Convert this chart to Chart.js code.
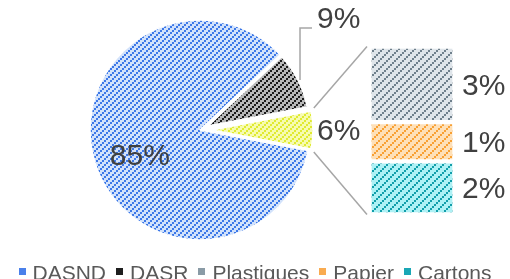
<!DOCTYPE html>
<html>
<head>
<meta charset="utf-8">
<script src="https://cdn.jsdelivr.net/npm/chart.js@4/dist/chart.umd.min.js"></script>
<style>
  body { margin: 0; background: #fff; }
  #wrap { position: relative; width: 510px; height: 279px; overflow: hidden; }
  #wrap canvas { position: absolute; left: 0; top: 0; }
  #legend {
    position: absolute; left: 0; top: 262px; width: 510px;
    display: flex; justify-content: center; align-items: center;
    font: 21px/21px "Liberation Sans", Arial, sans-serif; color: #595959;
    white-space: nowrap;
  }
  #legend .item { display: flex; align-items: center; margin-right: 10px; }
  #legend .item:last-child { margin-right: 0; }
  #legend .box { width: 7px; height: 7px; margin-right: 7px; position: relative; top: -1px; }
</style>
</head>
<body>
<div id="wrap">
  <canvas id="pie" width="510" height="279"></canvas>
  <canvas id="bar" width="510" height="279"></canvas>
  <div id="legend"></div>
</div>
<script>
// main pie
const categories = ['DASND', 'DASR', 'Autre'];
const shares = [85, 9, 6];
// split of "Autre"
const subCategories = ['Plastiques', 'Papier', 'Cartons'];
const subShares = [2.7, 1.4, 1.9];

const FONT = '"Liberation Sans", Arial, sans-serif';
const LABEL_COLOR = '#404040';
const LINE_COLOR = '#a6a6a6';

// upward diagonal hatch made of 2px blocks, p = pitch
function stripes(bg, fg, p) {
  const c = document.createElement('canvas');
  c.width = c.height = p;
  const g = c.getContext('2d');
  g.fillStyle = bg;
  g.fillRect(0, 0, p, p);
  g.fillStyle = fg;
  for (let k = 0; k < p; k += 2) g.fillRect(k, p - 2 - k, 2, 2);
  return g.createPattern(c, 'repeat');
}

const pieFills = [stripes('#d2e2fb', '#3c78e8', 6), stripes('#b8b8b8', '#1a1a1a', 6), stripes('#f6fbb0', '#e0ea30', 6)];
const subFills = [stripes('#dfe5ea', '#6f808c', 8), stripes('#fee0b8', '#f8a033', 8), stripes('#aef1f5', '#119eaa', 8)];
const legendColors = ['#4a80ea', '#1f1f1f', '#8a9ba6', '#f9ab50', '#1aa7b5'];

// slice explode distance and radius (px)
const explode = [0, 9, 12];
const sliceRadius = [110, 101, 101];

const total = shares.reduce((a, b) => a + b, 0);
const lastShare = shares[shares.length - 1];

const explodePlugin = {
  id: 'explode',
  afterDatasetUpdate(chart) {
    chart.getDatasetMeta(0).data.forEach((arc, i) => {
      const mid = (arc.startAngle + arc.endAngle) / 2;
      arc.x += Math.cos(mid) * explode[i];
      arc.y += Math.sin(mid) * explode[i];
      arc.outerRadius = sliceRadius[i];
    });
  }
};

const pieLabels = {
  id: 'pieLabels',
  afterDatasetsDraw(chart) {
    const ctx = chart.ctx;
    const arcs = chart.getDatasetMeta(0).data;
    ctx.save();
    ctx.font = '30px ' + FONT;
    ctx.fillStyle = LABEL_COLOR;
    ctx.textBaseline = 'middle';
    arcs.forEach((arc, i) => {
      const text = Math.round(shares[i]) + '%';
      const mid = (arc.startAngle + arc.endAngle) / 2;
      const ox = arc.x + Math.cos(mid) * arc.outerRadius;
      const oy = arc.y + Math.sin(mid) * arc.outerRadius;
      if (i === 0) {
        const a = mid - 8 * Math.PI / 180;
        const r = arc.outerRadius * 0.6;
        ctx.textAlign = 'center';
        ctx.fillText(text, arc.x + Math.cos(a) * r, arc.y + Math.sin(a) * r);
      } else if (i === 1) {
        ctx.strokeStyle = LINE_COLOR;
        ctx.lineWidth = 1.5;
        ctx.beginPath();
        ctx.moveTo(ox + 2, oy);
        ctx.lineTo(ox + 2, oy - 52);
        ctx.lineTo(ox + 14, oy - 52);
        ctx.stroke();
        ctx.textAlign = 'left';
        ctx.fillText(text, ox + 19, oy - 60);
      } else {
        ctx.textAlign = 'left';
        ctx.fillText(text, ox + 4, oy + 2);
      }
    });
    ctx.restore();
  }
};

const pieChart = new Chart(document.getElementById('pie'), {
  type: 'pie',
  data: {
    labels: categories,
    datasets: [{
      data: shares,
      backgroundColor: pieFills,
      borderColor: '#ffffff',
      borderWidth: 1.5
    }]
  },
  options: {
    responsive: false,
    animation: false,
    events: [],
    radius: 110,
    rotation: 90 + lastShare / total * 180,
    layout: { padding: { left: 0, right: 110, top: 0, bottom: 19 } },
    plugins: { legend: { display: false }, tooltip: { enabled: false } }
  },
  plugins: [explodePlugin, pieLabels]
});

const barLabels = {
  id: 'barLabels',
  afterDatasetsDraw(chart) {
    const ctx = chart.ctx;
    let top = Infinity, bottom = -Infinity, left = 0;
    ctx.save();
    ctx.font = '30px ' + FONT;
    ctx.fillStyle = LABEL_COLOR;
    ctx.textBaseline = 'middle';
    ctx.textAlign = 'left';
    chart.data.datasets.forEach((ds, i) => {
      const bar = chart.getDatasetMeta(i).data[0];
      const y1 = Math.min(bar.y, bar.base), y2 = Math.max(bar.y, bar.base);
      top = Math.min(top, y1);
      bottom = Math.max(bottom, y2);
      left = bar.x - bar.width / 2;
      ctx.fillText(Math.round(subShares[i]) + '%', bar.x + bar.width / 2 + 7.5, (y1 + y2) / 2 + 2);
    });
    // connector lines from the "Autre" slice to the bar
    const arc = pieChart.getDatasetMeta(0).data[categories.length - 1];
    const R = arc.outerRadius;
    const ends = [[arc.startAngle, top], [arc.endAngle, bottom]];
    ctx.strokeStyle = LINE_COLOR;
    ctx.lineWidth = 1.5;
    ends.forEach(([ang, y]) => {
      const cx = arc.x + Math.cos(ang) * R, cy = arc.y + Math.sin(ang) * R;
      const ex = left - 2.5, ey = y;
      const len = Math.hypot(ex - cx, ey - cy);
      ctx.beginPath();
      ctx.moveTo(cx + (ex - cx) / len * 4, cy + (ey - cy) / len * 4);
      ctx.lineTo(ex, ey);
      ctx.stroke();
    });
    ctx.restore();
  }
};

new Chart(document.getElementById('bar'), {
  type: 'bar',
  data: {
    labels: [categories[categories.length - 1]],
    datasets: subCategories.map((name, i) => ({
      label: name,
      data: [subShares[i]],
      backgroundColor: subFills[i],
      borderColor: '#ffffff',
      borderWidth: 2.5,
      borderSkipped: false,
      barPercentage: 1,
      categoryPercentage: 1
    }))
  },
  options: {
    responsive: false,
    animation: false,
    events: [],
    layout: { padding: { left: 369.5, right: 55.5, top: 46.5, bottom: 64.5 } },
    scales: {
      x: { display: false, stacked: true },
      y: { display: false, stacked: true, reverse: true, min: 0, max: subShares.reduce((a, b) => a + b, 0) }
    },
    plugins: { legend: { display: false }, tooltip: { enabled: false } }
  },
  plugins: [barLabels]
});

// legend
const legendNames = categories.slice(0, -1).concat(subCategories);
const legend = document.getElementById('legend');
legendNames.forEach((name, i) => {
  const item = document.createElement('span');
  item.className = 'item';
  const box = document.createElement('span');
  box.className = 'box';
  box.style.background = legendColors[i];
  const txt = document.createElement('span');
  txt.textContent = name;
  item.appendChild(box);
  item.appendChild(txt);
  legend.appendChild(item);
});
</script>
</body>
</html>
